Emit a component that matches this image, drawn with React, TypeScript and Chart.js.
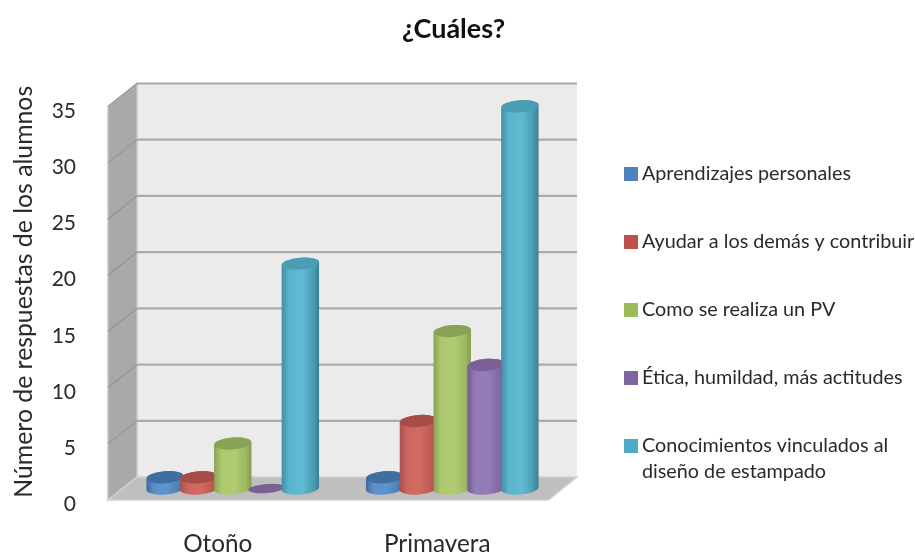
import React, { useEffect, useRef } from "react";
import { Chart, registerables } from "chart.js";

Chart.register(...registerables);

const categories = ["Otoño", "Primavera"];
const seriesNames: (string | string[])[] = [
  "Aprendizajes personales",
  "Ayudar a los demás y contribuir",
  "Como se realiza un PV",
  "Ética, humildad, más actitudes",
  ["Conocimientos vinculados al", "diseño de estampado"],
];
const aprendizajes = [1, 1];
const ayudar = [1, 6];
const comoSeRealiza = [4, 14];
const etica = [0, 11];
const conocimientos = [20, 34];
const seriesValues = [aprendizajes, ayudar, comoSeRealiza, etica, conocimientos];
const yTicks = [0, 5, 10, 15, 20, 25, 30, 35];

const legendColors = ["#4f81bd", "#c0504d", "#9bbb59", "#8064a2", "#4bacc6"];
const capColors = ["#3f6f9f", "#a84c48", "#8aa255", "#7a6095", "#4a9db3"];
const bodyStops = [
  ["#3e6d9e", "#5b8fc6", "#5f94cc", "#4e80b5", "#3f6a98"],
  ["#a8504c", "#cf655f", "#d26a63", "#bd5a55", "#9c4a46"],
  ["#8aa255", "#adc86f", "#b1cc73", "#9fb962", "#84994f"],
  ["#735a92", "#917ab5", "#957db9", "#8268a5", "#6b5488"],
  ["#3f8fa6", "#5ab5cc", "#5fbbd3", "#4a9db3", "#3a7f93"],
];

const FONT = "Lato, 'Open Sans', sans-serif";
const TEXT = "#2a2a2a";

const threeD = {
  id: "threeD",
  beforeLayout(chart: any) {
    const legend = chart.legend;
    if (legend && !legend.__wrapped) {
      const origFit = legend.fit;
      legend.fit = function () {
        origFit.call(this);
        this.width = 353;
      };
      legend.__wrapped = true;
    }
  },
  afterLayout(chart: any) {
    const legend = chart.legend;
    legend.left = 630 - legend.options.labels.padding;
    legend.top = 164 - legend.options.labels.padding;
    chart.titleBlock.left -= 4;
    chart.titleBlock.right -= 4;
  },
  beforeDatasetsDraw(chart: any) {
    const { ctx, scales } = chart;
    const xs = scales.x;
    const ys = scales.y;
    const dy = 11.5;
    const backL = xs.left + 14;
    const frontL = xs.left - 15;
    const backR = xs.right + 15;
    const frontR = xs.right - 13.5;
    const zero = ys.getPixelForValue(0);
    const top = ys.getPixelForValue(35);
    ctx.save();
    // back wall
    ctx.fillStyle = "#ebebeb";
    ctx.fillRect(backL, top - dy, backR - backL, zero - top);
    // side wall
    ctx.fillStyle = "#a9a9a9";
    ctx.beginPath();
    ctx.moveTo(frontL, top + dy);
    ctx.lineTo(backL, top - dy);
    ctx.lineTo(backL, zero - dy);
    ctx.lineTo(frontL, zero + dy);
    ctx.closePath();
    ctx.fill();
    ctx.strokeStyle = "#c6c6c6";
    ctx.lineWidth = 1.5;
    ctx.stroke();
    // floor
    ctx.fillStyle = "#bfbfbf";
    ctx.beginPath();
    ctx.moveTo(frontL, zero + dy);
    ctx.lineTo(backL, zero - dy);
    ctx.lineTo(backR, zero - dy);
    ctx.lineTo(frontR, zero + dy);
    ctx.closePath();
    ctx.fill();
    ctx.strokeStyle = "#d2d2d2";
    ctx.stroke();
    // grid
    yTicks.forEach((v) => {
      const p = ys.getPixelForValue(v);
      if (v > 0) {
        ctx.strokeStyle = "#ababab";
        ctx.lineWidth = 2.2;
        ctx.beginPath();
        ctx.moveTo(backL, p - dy);
        ctx.lineTo(backR, p - dy);
        ctx.stroke();
        ctx.strokeStyle = "#989898";
        ctx.lineWidth = 1.5;
        ctx.beginPath();
        ctx.moveTo(frontL, p + dy);
        ctx.lineTo(backL, p - dy);
        ctx.stroke();
      }
    });
    ctx.restore();
  },
  afterDatasetsDraw(chart: any) {
    const { ctx } = chart;
    const rot = -0.08;
    const ry = 6;
    ctx.save();
    seriesValues.forEach((_, i) => {
      const meta = chart.getDatasetMeta(i);
      meta.data.forEach((el: any) => {
        const rx = el.width / 2;
        const cx = el.x;
        const topY = el.y;
        const baseY = el.base;
        if (baseY - topY > 0.5) {
          const g = ctx.createLinearGradient(cx - rx, 0, cx + rx, 0);
          const s = bodyStops[i];
          g.addColorStop(0, s[0]);
          g.addColorStop(0.2, s[1]);
          g.addColorStop(0.55, s[2]);
          g.addColorStop(0.85, s[3]);
          g.addColorStop(1, s[4]);
          ctx.fillStyle = g;
          ctx.beginPath();
          ctx.ellipse(cx, baseY, rx, ry, rot, 0, Math.PI);
          ctx.ellipse(cx, topY, rx, ry, rot, Math.PI, 2 * Math.PI);
          ctx.closePath();
          ctx.fill();
        }
        ctx.fillStyle = capColors[i];
        ctx.beginPath();
        ctx.ellipse(cx, topY, rx - 0.5, baseY - topY > 0.5 ? ry : 4.5, rot, 0, 2 * Math.PI);
        ctx.fill();
      });
    });
    ctx.restore();
  },
};

export default function App() {
  const ref = useRef<HTMLCanvasElement>(null);
  useEffect(() => {
    const chart = new Chart(ref.current as HTMLCanvasElement, {
      type: "bar",
      data: {
        labels: categories,
        datasets: seriesValues.map((values, i) => ({
          label: seriesNames[i] as any,
          data: values,
          backgroundColor: "rgba(0,0,0,0)",
          borderWidth: 0,
          barPercentage: 1.11,
          categoryPercentage: 0.77,
        })),
      },
      options: {
        responsive: false,
        animation: false,
        events: [],
        layout: { padding: 0 },
        scales: {
          x: {
            afterFit(s: any) {
              s.height = 65.5;
            },
            grid: { display: false },
            border: { display: false },
            ticks: {
              color: TEXT,
              padding: 33,
              labelOffset: -15,
              maxRotation: 0,
              font: { family: FONT, size: 24.3 },
            },
          },
          y: {
            min: 0,
            max: 35,
            afterFit(s: any) {
              s.width = 123;
            },
            grid: { display: false },
            border: { display: false },
            ticks: {
              stepSize: 5,
              color: TEXT,
              padding: 39,
              labelOffset: 16,
              font: { family: FONT, size: 21 },
            },
            title: {
              display: true,
              text: "Número de respuestas de los alumnos",
              color: TEXT,
              padding: { top: 9, bottom: 0 },
              font: { family: FONT, size: 24.8 },
            },
          },
        },
        plugins: {
          tooltip: { enabled: false },
          title: {
            display: true,
            text: "¿Cuáles?",
            color: "#111111",
            padding: { top: 13, bottom: 49.6 },
            font: { family: FONT, size: 27, weight: "bold" },
          },
          legend: {
            display: true,
            position: "right",
            align: "start",
            labels: {
              color: TEXT,
              boxWidth: 2,
              boxHeight: 2,
              padding: 48.2,
              font: { family: FONT, size: 19.8, lineHeight: 1.3 },
              generateLabels(c: any) {
                return Chart.defaults.plugins.legend.labels
                  .generateLabels(c)
                  .map((it: any, i: number) => ({
                    ...it,
                    fillStyle: legendColors[i],
                    strokeStyle: legendColors[i],
                    lineWidth: 12,
                  }));
              },
            },
          },
        },
      },
      plugins: [threeD],
    } as any);
    return () => chart.destroy();
  }, []);
  return (
    <div style={{ position: "absolute", left: 0, top: 0, width: 915, height: 554, background: "#fff" }}>
      <canvas ref={ref} width={915} height={554} style={{ display: "block" }} />
    </div>
  );
}
